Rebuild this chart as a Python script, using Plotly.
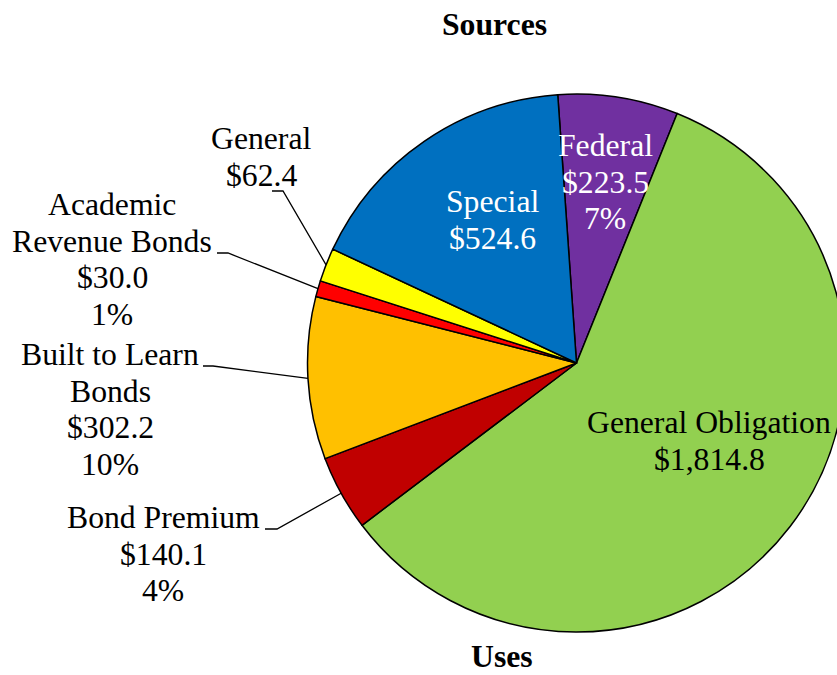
import math
import plotly.graph_objects as go

# ---------------- data ----------------
slice_names = ["Federal", "General Obligation", "Bond Premium", "Built to Learn Bonds",
               "Academic Revenue Bonds", "General", "Special"]
slice_values = [223.5, 1814.8, 140.1, 302.2, 30.0, 62.4, 524.6]
slice_pct_labels = ["7%", "", "4%", "10%", "1%", "", ""]
slice_label_lines = [["Federal"], ["General Obligation"], ["Bond Premium"],
                     ["Built to Learn", "Bonds"], ["Academic", "Revenue Bonds"],
                     ["General"], ["Special"]]
top_title = "Sources"
bottom_title = "Uses"

# ---------------- style / layout ----------------
slice_colors = ["#7030A0", "#92D050", "#C00000", "#FFC000", "#FF0000", "#FFFF00", "#0070C0"]
W, H = 854, 675            # figure a bit wider than the window -> pie clipped at right edge
CX, CY, R = 576.5, 363.0, 269.0
ROTATION = -4.0
FONT = "Liberation Serif"
FS = 31.7
LINE_GAP = 36.8
ASC_SHIFT = 0.3375 * FS    # baseline -> text-box centre

# label placement in pixels: centre x, first baseline, colour, leader (x0, x1, y)
label_layout = {
    "Federal": dict(x=605, y=156, color="white"),
    "General Obligation": dict(x=709, y=433, color="black"),
    "Bond Premium": dict(x=163, y=528, color="black", leader=(265, 277, 529)),
    "Built to Learn Bonds": dict(x=110, y=365, color="black", leader=(203, 213, 366)),
    "Academic Revenue Bonds": dict(x=112, y=215, color="black", leader=(217, 228, 253)),
    "General": dict(x=261, y=149, color="black", leader=(272, 283, 191)),
    "Special": dict(x=492, y=212, color="white"),
}


def px(x):
    return x / W


def py(y):
    return 1 - y / H


fig = go.Figure()
fig.add_trace(go.Pie(
    labels=slice_names,
    values=slice_values,
    sort=False,
    direction="clockwise",
    rotation=ROTATION,
    marker=dict(colors=slice_colors, line=dict(color="black", width=1.5)),
    textinfo="none",
    hoverinfo="label+value+percent",
    domain=dict(x=[px(CX - R), px(CX + R)], y=[py(CY + R), py(CY - R)]),
    showlegend=False,
))

annotations = []
shapes = []
total = sum(slice_values)
cum = 0.0
for name, val, pct, lines in zip(slice_names, slice_values, slice_pct_labels, slice_label_lines):
    mid = math.radians(ROTATION + 360.0 * (cum + val / 2.0) / total)
    cum += val
    spec = label_layout[name]
    text_lines = list(lines) + ["${:,.1f}".format(val)] + ([pct] if pct else [])
    for i, t in enumerate(text_lines):
        base = spec["y"] + i * LINE_GAP
        annotations.append(dict(
            x=px(spec["x"]), y=py(base - ASC_SHIFT), xref="paper", yref="paper",
            text=t, showarrow=False, xanchor="center", yanchor="middle",
            font=dict(family=FONT, size=FS, color=spec["color"]),
        ))
    if "leader" in spec:
        x0, x1, ly = spec["leader"]
        ex = CX + R * math.sin(mid)
        ey = CY - R * math.cos(mid)
        shapes.append(dict(
            type="path", xref="paper", yref="paper",
            path="M {} {} L {} {} L {} {}".format(px(x0), py(ly), px(x1), py(ly), px(ex), py(ey)),
            line=dict(color="black", width=1.3),
        ))

for txt, cx, base in [(top_title, 494.5, 35), (bottom_title, 502, 667.5)]:
    annotations.append(dict(
        x=px(cx), y=py(base - ASC_SHIFT), xref="paper", yref="paper",
        text="<b>{}</b>".format(txt), showarrow=False, xanchor="center", yanchor="middle",
        font=dict(family=FONT, size=FS, color="black"),
    ))

fig.update_layout(
    width=W, height=H,
    margin=dict(l=0, r=0, t=0, b=0),
    paper_bgcolor="white", plot_bgcolor="white",
    showlegend=False,
    annotations=annotations,
    shapes=shapes,
)

fig.write_html(
    "out.html",
    config={"displayModeBar": False},
    post_script="document.body.style.margin='0';document.body.style.overflow='hidden';",
)
